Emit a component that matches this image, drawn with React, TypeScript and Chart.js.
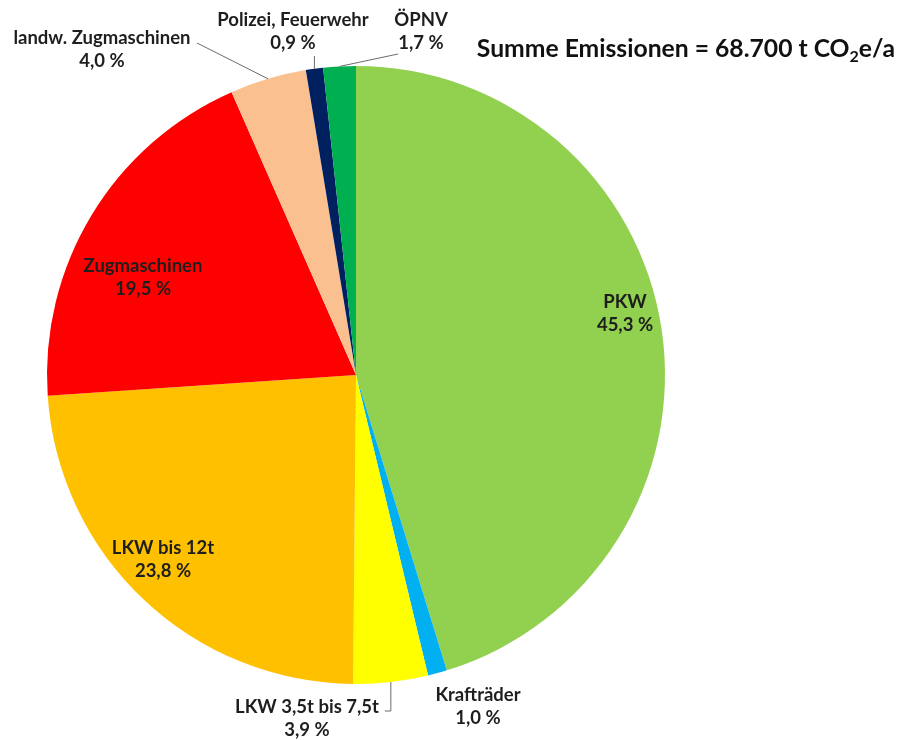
import React, { useEffect, useRef } from "react";
import { Chart, registerables } from "chart.js";

Chart.register(...registerables);

const categories = [
  "PKW",
  "Krafträder",
  "LKW 3,5t bis 7,5t",
  "LKW bis 12t",
  "Zugmaschinen",
  "landw. Zugmaschinen",
  "Polizei, Feuerwehr",
  "ÖPNV",
];
const shares = [45.3, 1.0, 3.9, 23.8, 19.5, 4.0, 0.9, 1.7];
const colors = ["#92D050", "#00B0F0", "#FFFF00", "#FFC000", "#FF0000", "#FAC090", "#002060", "#00B050"];
const titleMain = "Summe Emissionen = 68.700 t CO";
const titleSub = "2";
const titleEnd = "e/a";

// label placement (text block centre) and leader line style per slice
const labelCfg = [
  { x: 625, y: 314, leader: null },
  { x: 478, y: 707, leader: null },
  { x: 307, y: 719, leader: "lkw" },
  { x: 163, y: 560, leader: null },
  { x: 143, y: 278, leader: null },
  { x: 102, y: 50, leader: "diag", from: [197, 43] },
  { x: 293, y: 32, leader: "vert", from: [0, 56] },
  { x: 421, y: 32, leader: "diag", from: [398, 54] },
];

const FONT = "Lato, 'Open Sans', sans-serif";

const labelPlugin = {
  id: "sliceLabels",
  afterDraw(chart: any) {
    const ctx = chart.ctx as CanvasRenderingContext2D;
    const meta = chart.getDatasetMeta(0);
    ctx.save();
    ctx.fillStyle = "#1e1e1e";
    ctx.font = `bold 18.5px ${FONT}`;
    ctx.textAlign = "center";
    ctx.textBaseline = "middle";
    meta.data.forEach((arc: any, i: number) => {
      const cfg: any = labelCfg[i];
      const { x, y, startAngle, endAngle, outerRadius } = arc.getProps(
        ["x", "y", "startAngle", "endAngle", "outerRadius"],
        true
      );
      const mid = (startAngle + endAngle) / 2;
      const ex = x + Math.cos(mid) * outerRadius;
      const ey = y + Math.sin(mid) * outerRadius;
      const value = shares[i].toFixed(1).replace(".", ",") + " %";
      ctx.fillText(categories[i], cfg.x, cfg.y - 11.5);
      ctx.fillText(value, cfg.x, cfg.y + 11.5);
      if (cfg.leader) {
        ctx.strokeStyle = "#6b6b6b";
        ctx.lineWidth = 1;
        ctx.beginPath();
        if (cfg.leader === "lkw") {
          ctx.moveTo(ex, ey);
          ctx.lineTo(ex, ey + 29);
          ctx.lineTo(ex - 6, ey + 29);
        } else if (cfg.leader === "vert") {
          ctx.moveTo(ex, ey);
          ctx.lineTo(ex, cfg.from[1]);
        } else {
          ctx.moveTo(cfg.from[0], cfg.from[1]);
          ctx.lineTo(ex, ey);
        }
        ctx.stroke();
      }
    });
    // title
    ctx.textAlign = "left";
    ctx.textBaseline = "alphabetic";
    ctx.fillStyle = "#111";
    const big = `bold 24.7px ${FONT}`;
    const small = `bold 16px ${FONT}`;
    ctx.font = big;
    const w1 = ctx.measureText(titleMain).width;
    const w3 = ctx.measureText(titleEnd).width;
    ctx.font = small;
    const w2 = ctx.measureText(titleSub).width;
    const right = 895;
    const baseY = 57;
    let tx = right - (w1 + w2 + w3);
    ctx.font = big;
    ctx.fillText(titleMain, tx, baseY);
    tx += w1;
    ctx.font = small;
    ctx.fillText(titleSub, tx, baseY + 5);
    tx += w2;
    ctx.font = big;
    ctx.fillText(titleEnd, tx, baseY);
    ctx.restore();
  },
};

export default function App() {
  const ref = useRef<HTMLCanvasElement>(null);
  useEffect(() => {
    if (!ref.current) return;
    const chart = new Chart(ref.current, {
      type: "pie",
      data: {
        labels: categories,
        datasets: [
          {
            data: shares,
            backgroundColor: colors,
            borderWidth: 0,
          },
        ],
      },
      options: {
        responsive: false,
        animation: false,
        layout: { padding: { left: 47, right: 242, top: 66, bottom: 56 } },
        plugins: {
          legend: { display: false },
          tooltip: { enabled: false },
          title: { display: false },
        },
      },
      plugins: [labelPlugin],
    });
    return () => chart.destroy();
  }, []);
  return (
    <div style={{ position: "absolute", left: 0, top: 0, width: 907, height: 740, background: "#fff" }}>
      <canvas ref={ref} width={907} height={740} />
    </div>
  );
}
